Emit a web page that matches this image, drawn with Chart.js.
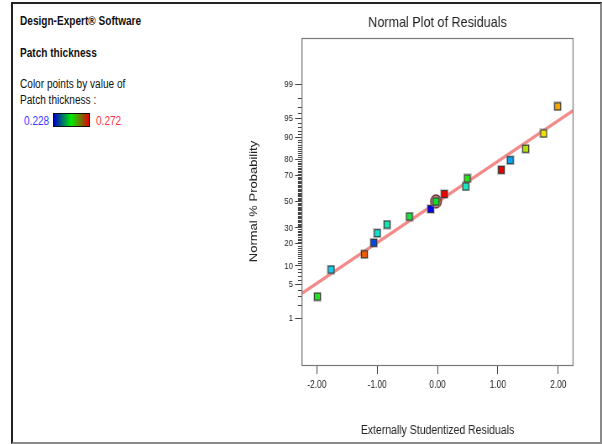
<!DOCTYPE html>
<html>
<head>
<meta charset="utf-8">
<script src="https://cdn.jsdelivr.net/npm/chart.js@4/dist/chart.umd.min.js"></script>
<style>
  html, body { margin: 0; padding: 0; background: #fff; }
  #wrap { position: relative; width: 602px; height: 444px; overflow: hidden;
          font-family: 'Liberation Sans', Arial, sans-serif; color: #111; }
  #frame { position: absolute; left: 11px; top: 2px; width: 591px; height: 442px; box-sizing: border-box;
           border-top: 2px solid #222; border-left: 2px solid #222;
           border-right: 2px solid #8a8a8a; border-bottom: 2px solid #8a8a8a; }
  /* condensed text, same horizontal squeeze as the chart canvas */
  .t { position: absolute; left: 20px; font-size: 12px; line-height: 14px; white-space: nowrap;
       transform: scaleX(0.84); transform-origin: 0 0; }
  .b { font-weight: bold; }
  #grad { position: absolute; left: 53px; top: 113px; width: 35px; height: 12px;
          border: 1px solid #111; background: linear-gradient(to right, #0000c8, #00ee00, #e00000); }
  #c { position: absolute; left: 0; top: 0; }
</style>
</head>
<body>
<div id="wrap">
  <div id="frame"></div>
  <div class="t b" style="top:14px">Design-Expert® Software</div>
  <div class="t b" style="top:46px">Patch thickness</div>
  <div class="t" style="top:77px">Color points by value of</div>
  <div class="t" style="top:93px">Patch thickness :</div>
  <div class="t" style="top:114px;left:24px;color:#3a3aff">0.228</div>
  <div id="grad"></div>
  <div class="t" style="top:114px;left:96px;color:#ff3048">0.272</div>
  <!-- drawn 717 px wide, shown condensed to 602 px -->
  <canvas id="c" width="717" height="444" style="width:602px;height:444px"></canvas>
</div>
<script>
// Externally studentized residuals, sorted, with their normal plotting percentiles
const residuals = [-1.990, -1.763, -1.212, -1.056, -0.997, -0.836, -0.467, -0.113, -0.025,
                   0.113, 0.467, 0.493, 1.056, 1.205, 1.460, 1.758, 1.990];
const probabilities = [2.94, 8.82, 14.71, 20.59, 26.47, 32.35, 38.24, 44.12, 50.00,
                       55.88, 61.76, 67.65, 73.53, 79.41, 85.29, 91.18, 97.06];
// point colour by patch thickness (0.228 blue .. 0.272 red)
const pointColors = ['#1ee61e', '#18c8e8', '#e85a00', '#0a46e0', '#10e0d0', '#10e8b0', '#20e040', '#0000f0', '#10e020',
                     '#f00000', '#18e8c0', '#28e020', '#e80000', '#0aa0f0', '#b0e000', '#f0e000', '#f0a800'];
const highlightIndex = 8;

// reference line through the residuals
const fitX = [-2.245, 2.245];
const fitP = [3.40, 96.45];

// axis ticks
const xTickValues = [-2, -1, 0, 1, 2];
const majorPercents = [1, 5, 10, 20, 30, 50, 70, 80, 90, 95, 99];
const allPercents = Array.from({length: 99}, (_, i) => i + 1);
const xRange = [-2.245, 2.245];
const yRange = [0.0577, 99.9423];

// inverse standard normal CDF (Acklam)
function probit(p) {
  const a = [-3.969683028665376e+01, 2.209460984245205e+02, -2.759285104469687e+02, 1.383577518672690e+02, -3.066479806614716e+01, 2.506628277459239e+00];
  const b = [-5.447609879822406e+01, 1.615858368580409e+02, -1.556989798598866e+02, 6.680131188771972e+01, -1.328068155288572e+01];
  const c = [-7.784894002430293e-03, -3.223964580411365e-01, -2.400758277161838e+00, -2.549732539343734e+00, 4.374664141464968e+00, 2.938163982698783e+00];
  const d = [7.784695709041462e-03, 3.224671290700398e-01, 2.445134137142996e+00, 3.754408661907416e+00];
  const pl = 0.02425, ph = 1 - pl;
  let q, r;
  if (p < pl) {
    q = Math.sqrt(-2 * Math.log(p));
    return (((((c[0]*q+c[1])*q+c[2])*q+c[3])*q+c[4])*q+c[5]) / ((((d[0]*q+d[1])*q+d[2])*q+d[3])*q+1);
  }
  if (p <= ph) {
    q = p - 0.5; r = q * q;
    return (((((a[0]*r+a[1])*r+a[2])*r+a[3])*r+a[4])*r+a[5])*q / (((((b[0]*r+b[1])*r+b[2])*r+b[3])*r+b[4])*r+1);
  }
  q = Math.sqrt(-2 * Math.log(1 - p));
  return -(((((c[0]*q+c[1])*q+c[2])*q+c[3])*q+c[4])*q+c[5]) / ((((d[0]*q+d[1])*q+d[2])*q+d[3])*q+1);
}
function normCdf(z) {
  // Abramowitz-Stegun erf approximation
  const t = 1 / (1 + 0.3275911 * Math.abs(z) / Math.SQRT2);
  const y = 1 - (((((1.061405429*t - 1.453152027)*t) + 1.421413741)*t - 0.284496736)*t + 0.254829592)*t*Math.exp(-z*z/2);
  return z >= 0 ? 0.5 * (1 + y) : 0.5 * (1 - y);
}

// Normal probability axis: values are percents, spacing follows the normal quantile
class ProbitScale extends Chart.Scale {
  determineDataLimits() {
    this.min = this.options.min;
    this.max = this.options.max;
  }
  buildTicks() {
    return (this.options.tickValues || []).map(v => ({value: v}));
  }
  getLabelForValue(v) { return String(v); }
  configure() {
    super.configure();
    this._zMin = probit(this.min / 100);
    this._zMax = probit(this.max / 100);
  }
  getPixelForValue(v) {
    return this.getPixelForDecimal((probit(v / 100) - this._zMin) / (this._zMax - this._zMin));
  }
  getValueForPixel(px) {
    const z = this._zMin + this.getDecimalForPixel(px) * (this._zMax - this._zMin);
    return normCdf(z) * 100;
  }
}
ProbitScale.id = 'probit';
ProbitScale.defaults = {};
Chart.register(ProbitScale);

// square marker with dark outline and soft grey halo
function squareMarker(color) {
  const cv = document.createElement('canvas');
  cv.width = 10; cv.height = 10;
  const g = cv.getContext('2d');
  g.fillStyle = 'rgba(140,140,140,0.45)';
  g.fillRect(0, 0, 10, 10);
  g.fillStyle = '#363636';
  g.fillRect(1, 1, 8, 8);
  g.fillStyle = color;
  g.fillRect(2, 2, 6, 6);
  return cv;
}

const FONT = "'Liberation Sans', Arial, sans-serif";
Chart.defaults.font.family = FONT;
Chart.defaults.color = '#222';

const points = residuals.map((r, i) => ({x: r, y: probabilities[i]}));

// minor tick marks on the probability axis, and the plot frame
const minorTicks = {
  id: 'minorTicks',
  afterDraw(chart) {
    const ys = chart.scales.y, ca = chart.chartArea, ctx = chart.ctx;
    ctx.save();
    ctx.strokeStyle = '#444';
    ctx.lineWidth = 1;
    ctx.beginPath();
    allPercents.filter(p => !majorPercents.includes(p)).forEach(p => {
      const y = Math.round(ys.getPixelForValue(p)) + 0.5;
      ctx.moveTo(ca.left - 4.8, y);
      ctx.lineTo(ca.left, y);
    });
    ctx.stroke();
    ctx.strokeStyle = '#7a7a7a';
    ctx.lineWidth = 1.2;
    ctx.strokeRect(ca.left, Math.round(ca.top) + 0.5, ca.right - ca.left, Math.round(ca.bottom - ca.top));
    ctx.restore();
  }
};

new Chart(document.getElementById('c'), {
  type: 'scatter',
  data: {
    datasets: [
      {
        data: points,
        pointStyle: pointColors.map(squareMarker),
        pointRadius: 5,
        order: 0
      },
      {
        data: [points[highlightIndex]],
        pointStyle: 'circle',
        pointRadius: 6.4,
        backgroundColor: 'rgba(150,70,70,0.6)',
        borderColor: 'rgba(105,35,35,0.9)',
        borderWidth: 1.5,
        order: 1
      },
      {
        data: fitX.map((x, i) => ({x, y: fitP[i]})),
        showLine: true,
        borderColor: 'rgba(242,125,125,0.9)',
        borderWidth: 3.4,
        pointRadius: 0,
        order: 2
      }
    ]
  },
  options: {
    responsive: false,
    animation: false,
    devicePixelRatio: 1,
    events: [],
    layout: { padding: { left: 286, right: 34.5, top: 6, bottom: 4 } },
    plugins: {
      legend: { display: false },
      tooltip: { enabled: false },
      title: {
        display: true,
        text: 'Normal Plot of Residuals',
        fullSize: false,
        color: '#222',
        font: { size: 15, weight: 'normal' },
        padding: { top: 8, bottom: 6 }
      }
    },
    scales: {
      x: {
        type: 'linear',
        min: xRange[0], max: xRange[1],
        afterBuildTicks: s => { s.ticks = xTickValues.map(v => ({value: v})); },
        afterFit: s => { s.height = 75; },
        grid: { drawOnChartArea: false, tickLength: 9, tickColor: '#444' },
        border: { color: '#777' },
        ticks: { font: { size: 10 }, color: '#222', padding: 5, callback: v => v.toFixed(2) },
        title: {
          display: true, text: 'Externally Studentized Residuals', color: '#222',
          font: { size: 12.5 }, padding: { top: 4, bottom: 1.5 }
        }
      },
      y: {
        type: 'probit',
        position: 'left',
        min: yRange[0], max: yRange[1],
        tickValues: allPercents,
        afterFit: s => { s.width = 73.7; },
        grid: {
          drawOnChartArea: false, tickLength: 8.3,
          tickColor: ctx => (ctx.tick && majorPercents.includes(ctx.tick.value)) ? '#444' : 'rgba(0,0,0,0)'
        },
        border: { color: '#666' },
        ticks: {
          autoSkip: false, font: { size: 9.5 }, color: '#222', padding: 2.4,
          callback: v => majorPercents.includes(v) ? String(v) : ''
        },
        title: {
          display: true, text: 'Normal % Probability', color: '#222',
          font: { size: 13 }, padding: { top: 8.7 }
        }
      }
    }
  },
  plugins: [minorTicks]
});
</script>
</body>
</html>
